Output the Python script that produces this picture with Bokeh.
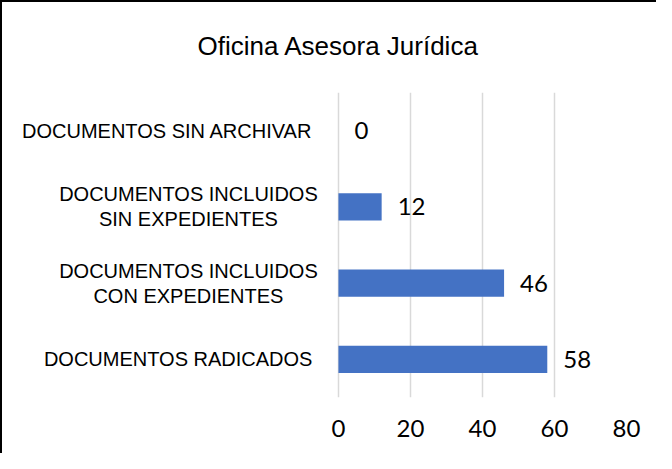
from bokeh.plotting import figure
from bokeh.models import ColumnDataSource, LabelSet, Range1d, FixedTicker, FactorRange, Title
from bokeh.core.properties import value
from bokeh.embed import file_html
from bokeh.resources import INLINE

# ---- data ----
categories = [
    "DOCUMENTOS RADICADOS",
    "DOCUMENTOS INCLUIDOS\nCON EXPEDIENTES",
    "DOCUMENTOS INCLUIDOS\nSIN EXPEDIENTES",
    "DOCUMENTOS SIN ARCHIVAR",
]
values = [58, 46, 12, 0]
x_ticks = [0, 20, 40, 60, 80]
title_text = "Oficina Asesora Jurídica"

SANS = "Liberation Sans"
DIGITS = "Lato"

# the frame also holds the category labels, left of zero
p = figure(
    width=656, height=453,
    y_range=FactorRange(factors=categories, range_padding=0),
    x_range=Range1d(-93.3, 80),
    output_backend="svg", toolbar_location=None,
    min_border_left=0, min_border_right=32,
    min_border_top=90, min_border_bottom=58,
)
p.styles = {"border-left": "2px solid black", "border-top": "2px solid black"}
p.background_fill_color = "white"
p.border_fill_color = "white"
p.outline_line_color = None

p.title.text = title_text
p.title.text_font = SANS
p.title.text_font_size = "26px"
p.title.text_font_style = "normal"
p.title.text_color = "black"
p.title.align = "left"
p.title.offset = 195
p.title.vertical_align = "bottom"
p.title.standoff = 53
# small blank spacer between the title and the plot area
p.add_layout(Title(text=" ", text_font_size="1px", standoff=2), "above")

src = ColumnDataSource(dict(cat=categories, val=values, lab=[str(v) for v in values]))
p.hbar(y="cat", right="val", left=0, height=0.36, source=src,
       fill_color="#4472C4", line_color=None)

p.add_layout(LabelSet(x="val", y="cat", text="lab", source=src, x_offset=16,
                      text_align="left", text_baseline="middle",
                      text_font=value(DIGITS), text_font_size="24px", text_color="black"))

# category labels: one-line ones right-aligned, two-line ones centred line by line
single = [c for c in categories if "\n" not in c]
multi = [c for c in categories if "\n" in c]
src_single = ColumnDataSource(dict(cat=single, x=[0] * len(single)))
src_multi = ColumnDataSource(dict(
    cat=multi, x=[0] * len(multi),
    first=[c.split("\n")[0] for c in multi],
    second=[c.split("\n")[1] for c in multi],
))
p.add_layout(LabelSet(x="x", y="cat", text="cat", source=src_single, x_offset=-26,
                      text_align="right", text_baseline="middle",
                      text_font=value(SANS), text_font_size="20px", text_color="black"))
for col, dy in (("first", 12.5), ("second", -12.5)):
    p.add_layout(LabelSet(x="x", y="cat", text=col, source=src_multi,
                          x_offset=-150, y_offset=dy,
                          text_align="center", text_baseline="middle",
                          text_font=value(SANS), text_font_size="20px", text_color="black"))

p.yaxis.visible = False
p.ygrid.visible = False
p.xgrid.grid_line_color = "#d9d9d9"
p.xgrid.grid_line_width = 1.5

p.xaxis.ticker = FixedTicker(ticks=x_ticks)
p.xaxis.axis_line_color = None
p.xaxis.major_tick_line_color = None
p.xaxis.minor_tick_line_color = None
p.xaxis.major_label_standoff = 16
p.xaxis.major_label_text_font = DIGITS
p.xaxis.major_label_text_font_size = "24px"
p.xaxis.major_label_text_color = "black"

open("out.html", "w").write(file_html(p, INLINE))
